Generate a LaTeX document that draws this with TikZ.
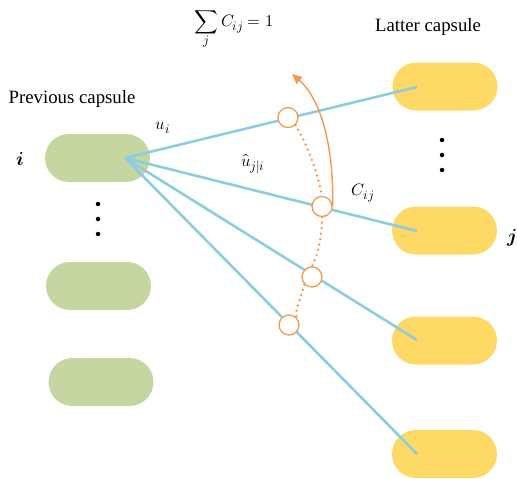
\documentclass[tikz,border=0pt]{standalone}
\usepackage{unicode-math}
\setmainfont{Liberation Serif}
\setmathfont{Latin Modern Math}
\DeclareMathSizes{16.5}{16.5}{13}{10}
\DeclareMathSizes{19}{19}{14}{11}
\usetikzlibrary{arrows.meta}
\definecolor{capgreen}{RGB}{197,214,160}
\definecolor{capyellow}{RGB}{255,217,102}
\definecolor{linkblue}{RGB}{140,206,222}
\definecolor{routeorange}{RGB}{245,154,77}
\tikzset{
  prevcap/.style={fill=capgreen, draw=none, minimum width=105pt, minimum height=48pt, rounded corners=24pt, inner sep=0pt},
  lattcap/.style={fill=capyellow, draw=none, minimum width=105pt, minimum height=48pt, rounded corners=24pt, inner sep=0pt},
  link/.style={draw=linkblue, line width=2.6pt},
  gate/.style={circle, draw=routeorange, fill=white, line width=1.3pt, minimum size=20pt, inner sep=0pt},
  dotline/.style={draw=routeorange, line width=2.7pt, line cap=round, dash pattern=on 0pt off 5.5pt},
  vdot/.style={circle, fill=black, minimum size=4.5pt, inner sep=0pt},
  lbl/.style={font=\fontsize{18.8}{22}\selectfont, inner sep=0pt},
  mlbl/.style={font=\fontsize{16.5}{19}\selectfont, inner sep=0pt},
  blbl/.style={font=\fontsize{19}{22}\selectfont, inner sep=0pt}
}
\begin{document}
\begin{tikzpicture}[x=1pt, y=-1pt]
\useasboundingbox (0,0) rectangle (517,479);
% capsules
\node[prevcap] (p1) at (97.5,158) {};
\node[prevcap] (p2) at (98.5,286) {};
\node[prevcap] (p3) at (101,382) {};
\node[lattcap] (l1) at (445,86.5) {};
\node[lattcap] (l2) at (444.5,230.5) {};
\node[lattcap] (l3) at (444.5,340.5) {};
\node[lattcap] (l4) at (444.5,454) {};
% link end points
\coordinate (o) at (125,158);
\coordinate (e1) at (417,87);
\coordinate (e2) at (417,231);
\coordinate (e3) at (417,340);
\coordinate (e4) at (417,454);
\draw[link] (o) -- (e1);
\draw[link] (o) -- (e2);
\draw[link] (o) -- (e3);
\draw[link] (o) -- (e4);
% gates
\node[gate] (g1) at (288,117.5) {};
\node[gate] (g2) at (322,206.5) {};
\node[gate] (g3) at (312,277) {};
\node[gate] (g4) at (289,325) {};
% dotted routing
\draw[dotline] (g1.south east) .. controls (310,150) and (318,175) .. (g2.north);
\draw[dotline] (g2.south) .. controls (322,235) and (318,255) .. (g3.north);
\draw[dotline] (g3.south west) .. controls (300,300) and (295,310) .. (g4.north east);
% arrow
\draw[routeorange, line width=1.4pt, -{Triangle[length=10pt,width=9pt]}] (g2.east) .. controls (334,150) and (322,100) .. (292,74);
% dots
\node[vdot] (ld1) at (98,204) {};
\node[vdot] (ld2) at (98,219) {};
\node[vdot] (ld3) at (98,234) {};
\node[vdot] (rd1) at (442,140) {};
\node[vdot] (rd2) at (442,155) {};
\node[vdot] (rd3) at (442,170) {};
% labels
\node[lbl] (prev) at (72,99) {Previous capsule};
\node[lbl] (latt) at (428,27) {Latter capsule};
\node[mlbl] (sum) at (234,30) {$\displaystyle\sum_j C_{ij} = 1$};
\node[mlbl] (ui) at (163,128) {$u_i$};
\node[mlbl] (uh) at (253,164) {$\hat{u}_{j|i}$};
\node[mlbl] (cij) at (363,193) {$C_{ij}$};
\node[blbl] (ilab) at (20,159) {$\symbfit{i}$};
\node[blbl, anchor=west] (jlab) at (507,238) {$\symbfit{j}$};
\end{tikzpicture}
\end{document}
